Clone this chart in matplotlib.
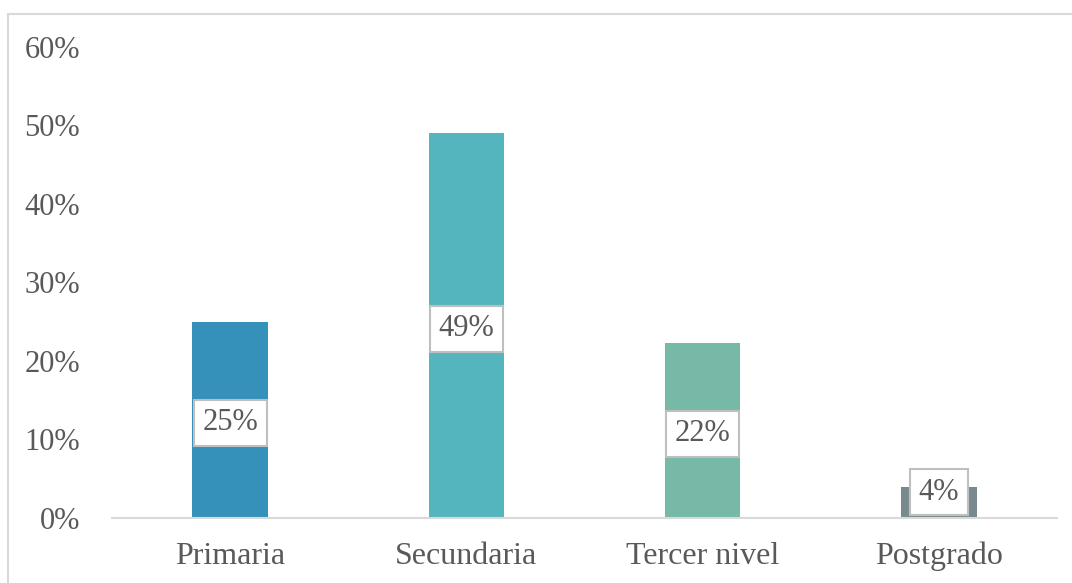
import matplotlib
matplotlib.use('Agg')
import matplotlib.pyplot as plt
from matplotlib.patches import Rectangle

# data
categories = ['Primaria', 'Secundaria', 'Tercer nivel', 'Postgrado']
values = [0.25, 0.49, 0.223, 0.04]
labels = ['25%', '49%', '22%', '4%']
colors = ['#3591B9', '#55B5BE', '#75B9A6', '#798A8E']
yticks = [0, 0.1, 0.2, 0.3, 0.4, 0.5, 0.6]
ytick_labels = ['0%', '10%', '20%', '30%', '40%', '50%', '60%']

plt.rcParams['font.family'] = ['Liberation Serif', 'DejaVu Serif']
text_color = '#595959'
fs = 22

fig = plt.figure(figsize=(10.72, 5.83), dpi=100)
ax = fig.add_axes([0.1045, 0.1115, 0.8815, 0.808])

x = list(range(len(categories)))
ax.bar(x, values, width=0.32, color=colors)

for xi, v, lab in zip(x, values, labels):
    ypos = max(v / 2 - 0.004, 0.033)
    ax.text(xi, ypos, lab, ha='center', va='center', fontsize=fs, color=text_color,
            bbox=dict(boxstyle='square,pad=0.28', facecolor='white', edgecolor='#BFBFBF', linewidth=1.5))

ax.set_xlim(-0.5, len(categories) - 0.5)
ax.set_ylim(0, 0.6)
ax.set_yticks(yticks)
ax.set_yticklabels(ytick_labels)
ax.set_xticks(x)
ax.set_xticklabels(categories)
ax.tick_params(axis='both', length=0, labelsize=fs, labelcolor=text_color)
ax.tick_params(axis='y', pad=23)
ax.tick_params(axis='x', pad=17, labelsize=23)

for side in ['top', 'right', 'left']:
    ax.spines[side].set_visible(False)
ax.spines['bottom'].set_color('#D9D9D9')
ax.spines['bottom'].set_linewidth(1.5)

# light frame around the chart area
fig.patches.append(Rectangle((8 / 1072, -0.01), 1.1, 1 - 14 / 583 + 0.01, transform=fig.transFigure,
                             fill=False, edgecolor='#D9D9D9', linewidth=1.5))

plt.savefig('out.png', dpi=100)
